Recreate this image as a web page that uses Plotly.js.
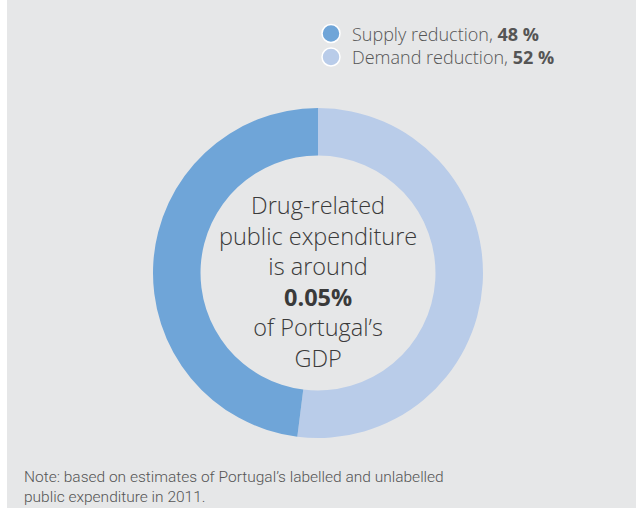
<!DOCTYPE html>
<html>
<head>
<meta charset="utf-8">
<script src="https://cdn.plot.ly/plotly-3.0.1.min.js"></script>
<style>html,body{margin:0;padding:0;background:#fff;}#chart{width:636px;height:508px;}</style>
</head>
<body>
<div id="chart"></div>
<script>
const categories = ["Supply reduction", "Demand reduction"];
const shares = [48, 52];
const colors = ["#6fa5d8", "#b9cce9"];
const centerLines = ["Drug-related", "public expenditure", "is around", "<b>0.05%</b>", "of Portugal’s", "GDP"];
const noteLines = ["Note: based on estimates of Portugal’s labelled and unlabelled", "public expenditure in 2011."];

const W = 636, H = 508;
const px = x => x / W;
const py = y => 1 - y / H;
const FONT_WIDE = "'Open Sans', Roboto, sans-serif";
const FONT = "Roboto, 'Liberation Sans', sans-serif";

// Demand drawn first clockwise from 12 o'clock (right side), Supply fills the left side
const trace = {
  type: "pie",
  labels: categories.slice().reverse(),
  values: shares.slice().reverse(),
  sort: false,
  direction: "clockwise",
  rotation: 0,
  hole: 0.712,
  textinfo: "none",
  hoverinfo: "label+percent",
  marker: {colors: colors.slice().reverse(), line: {width: 0}},
  domain: {x: [px(153), px(483)], y: [py(438), py(108)]},
  showlegend: false
};

const shapes = [
  {type: "rect", xref: "paper", yref: "paper", x0: px(7), x1: 1, y0: 0, y1: 1,
   fillcolor: "#e6e7e8", line: {width: 0}, layer: "below"}
];
const annotations = [];
const legendY = [33.5, 57];
categories.forEach((c, i) => {
  shapes.push({type: "circle", xref: "paper", yref: "paper",
    x0: px(322), x1: px(340), y0: py(legendY[i] + 9), y1: py(legendY[i] - 9),
    fillcolor: colors[i], line: {color: "#ffffff", width: 1.5}});
  annotations.push({xref: "paper", yref: "paper", x: px(350), y: py(legendY[i]),
    xanchor: "left", yanchor: "middle", showarrow: false,
    text: c + ", <b>" + shares[i] + " %</b>",
    font: {family: FONT_WIDE, size: 18, color: "#555555", weight: 300}});
});
annotations.push({xref: "paper", yref: "paper", x: px(318), y: py(281),
  xanchor: "center", yanchor: "middle", showarrow: false, align: "center",
  text: centerLines.join("<br>"),
  font: {family: FONT_WIDE, size: 23.5, color: "#3a3a3a", weight: 300}});
annotations.push({xref: "paper", yref: "paper", x: px(22), y: py(487),
  xanchor: "left", yanchor: "middle", showarrow: false, align: "left",
  text: noteLines.join("<br>"),
  font: {family: FONT, size: 15.5, color: "#555555", weight: 300}});

const layout = {
  width: W, height: H,
  margin: {l: 0, r: 0, t: 0, b: 0},
  paper_bgcolor: "#ffffff",
  shapes: shapes,
  annotations: annotations,
  showlegend: false
};
Plotly.newPlot("chart", [trace], layout, {displayModeBar: false, staticPlot: true});
</script>
</body>
</html>
